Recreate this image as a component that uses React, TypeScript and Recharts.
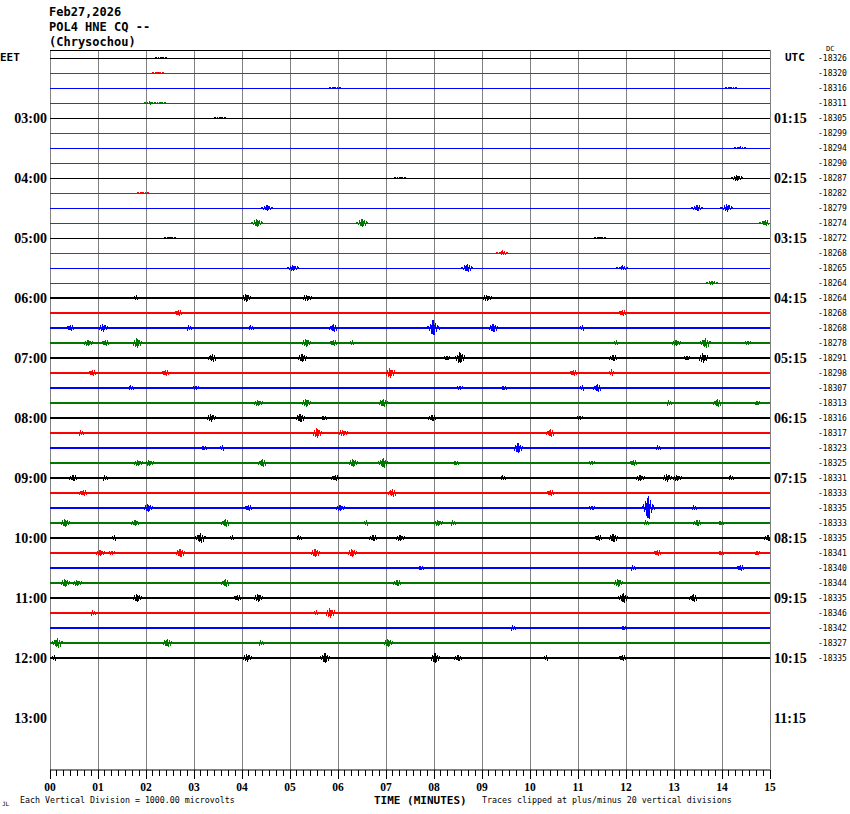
import React from 'react';
import { LineChart, Line, XAxis, YAxis, ReferenceLine } from 'recharts';

// helicorder: one 15-minute trace per row, rows top to bottom
const traceValues = [
  -18326, -18320, -18316, -18311, -18305, -18299, -18294, -18290, -18287, -18282,
  -18279, -18274, -18272, -18268, -18265, -18264, -18264, -18268, -18268, -18278,
  -18291, -18298, -18307, -18313, -18316, -18317, -18323, -18325, -18331, -18333,
  -18335, -18333, -18335, -18341, -18340, -18344, -18335, -18346, -18342, -18327,
  -18335,
];

const hourRows = [4, 8, 12, 16, 20, 24, 28, 32, 36, 40, 44];
const hourLabelsEET = ['03:00', '04:00', '05:00', '06:00', '07:00', '08:00', '09:00', '10:00', '11:00', '12:00', '13:00'];
const hourLabelsUTC = ['01:15', '02:15', '03:15', '04:15', '05:15', '06:15', '07:15', '08:15', '09:15', '10:15', '11:15'];
const minuteLabels = ['00', '01', '02', '03', '04', '05', '06', '07', '08', '09', '10', '11', '12', '13', '14', '15'];

// events per trace: [minute, peak amplitude in microvolts]
const traceEvents: [number, number][][] = [
  [[2.31, 70]],
  [[2.25, 70]],
  [[5.94, 70], [14.19, 70]],
  [[2.08, 70], [2.29, 70]],
  [[3.54, 70]],
  [],
  [[14.38, 70]],
  [],
  [[7.29, 70], [14.31, 200]],
  [[1.94, 70]],
  [[4.52, 200], [13.48, 200], [14.1, 270]],
  [[4.31, 270], [6.5, 270], [14.9, 200]],
  [[2.5, 70], [11.46, 70]],
  [[9.42, 130]],
  [[5.06, 200], [8.69, 270], [11.92, 130]],
  [[13.79, 130]],
  [[1.81, 130], [4.08, 270], [5.35, 200], [9.1, 200]],
  [[2.67, 200], [11.92, 200]],
  [[0.42, 200], [1.1, 270], [2.88, 130], [4.17, 130], [5.9, 270], [7.98, 530], [9.23, 270], [11.1, 130]],
  [[0.79, 200], [1.15, 200], [1.81, 330], [5.33, 270], [5.9, 200], [6.31, 130], [11.81, 130], [13.04, 200], [13.65, 330], [14.54, 130]],
  [[3.38, 270], [5.25, 270], [8.27, 130], [8.54, 400], [11.73, 200], [13.27, 130], [13.6, 330]],
  [[0.88, 200], [2.4, 200], [7.08, 330], [10.9, 200], [11.7, 130]],
  [[1.67, 130], [3.04, 130], [8.54, 130], [9.44, 130], [11.1, 130], [11.4, 270]],
  [[4.33, 200], [5.33, 270], [6.94, 270], [12.88, 130], [13.9, 270], [14.73, 130]],
  [[3.35, 270], [5.21, 270], [5.69, 130], [7.96, 200], [11.04, 130]],
  [[0.63, 130], [5.56, 330], [6.1, 200], [10.42, 270]],
  [[3.19, 130], [3.6, 130], [9.75, 330], [12.65, 130]],
  [[1.83, 200], [2.06, 200], [4.42, 270], [6.31, 270], [6.94, 330], [8.44, 130], [11.29, 130], [12.15, 200]],
  [[0.48, 200], [1.13, 130], [5.94, 200], [9.42, 130], [12.29, 200], [12.85, 270], [13.06, 200], [14.17, 130]],
  [[0.69, 200], [7.13, 270], [10.42, 200]],
  [[2.04, 270], [4.13, 200], [6.04, 200], [11.29, 130], [12.46, 800], [13.4, 130]],
  [[0.31, 270], [1.77, 200], [3.65, 270], [6.6, 130], [8.08, 200], [8.38, 130], [12.4, 130], [13.48, 200], [13.96, 130]],
  [[1.35, 130], [3.13, 330], [3.81, 130], [5.17, 130], [6.73, 200], [7.29, 200], [11.42, 200], [11.73, 270], [14.96, 200]],
  [[1.04, 200], [1.29, 130], [2.71, 270], [5.52, 270], [6.29, 270], [12.65, 200], [13.96, 130], [14.73, 130]],
  [[3.54, 70], [7.71, 130], [12.13, 130], [14.38, 200]],
  [[0.31, 270], [0.56, 200], [3.65, 270], [7.23, 200], [11.83, 270]],
  [[1.81, 270], [3.9, 200], [4.33, 270], [11.94, 330], [13.4, 270]],
  [[0.88, 130], [5.56, 130], [5.83, 330], [9.69, 70]],
  [[9.63, 130], [11.94, 130]],
  [[0.15, 330], [2.44, 270], [4.38, 130], [7.04, 270]],
  [[0.1, 130], [4.1, 270], [5.73, 330], [8.02, 330], [8.5, 200], [10.35, 130], [11.92, 200]],
];

const COLORS = ['#000000', '#ff0000', '#0000ff', '#007800'];
const UV_PER_ROW = 1000;
const TOP = 8 / 15;
const BOTTOM = TOP - 48;
const SUBDIV = 7;
const minuteTicks = Array.from({ length: 15 * SUBDIV + 1 }, (_, k) => k / SUBDIV);

// shape of one wiggle, [minute offset, fraction of peak]
const wiggle: [number, number][] = [
  [-0.1, 0.2], [-0.07, -0.35], [-0.045, 0.55], [-0.02, -0.8], [0, 1],
  [0.02, -0.9], [0.045, 0.65], [0.07, -0.45], [0.1, 0.3], [0.13, -0.15],
];

function buildTrace(row: number) {
  const pts: { x: number; y: number }[] = [{ x: 0, y: -row }, { x: 15, y: -row }];
  traceEvents[row].forEach(([m, amp]) => {
    pts.push({ x: Math.max(0, m - 0.13), y: -row });
    wiggle.forEach(([dx, f]) => {
      const x = m + dx;
      if (x >= 0 && x <= 15) pts.push({ x, y: -row + (f * amp) / UV_PER_ROW });
    });
    pts.push({ x: Math.min(15, m + 0.16), y: -row });
  });
  return pts.sort((a, b) => a.x - b.x);
}

const traces = traceValues.map((_, i) => buildTrace(i));
const baselines = traceValues.map((_, i) => [{ x: 0, y: -i }, { x: 15, y: -i }]);
const rowTicks = traceValues.map((_, i) => -i);

const MinuteTick = (props: any) => {
  const { x, y, payload } = props;
  const k = Math.round(payload.value * SUBDIV);
  const major = k % SUBDIV === 0;
  return (
    <g>
      <line x1={x} x2={x} y1={y} y2={y + (major ? 9 : 6)} stroke="#000" shapeRendering="crispEdges" />
      {major && (
        <text x={x} y={y + 17} textAnchor="middle" dominantBaseline="central"
          style={{ fontFamily: 'Liberation Serif', fontWeight: 'bold', fontSize: 11.5 }} fill="#000">
          {minuteLabels[k / SUBDIV]}
        </text>
      )}
    </g>
  );
};

const serif = { fontFamily: 'Liberation Serif', fontWeight: 'bold' as const, fontSize: 14, fill: '#000' };
const mono = { fontFamily: 'DejaVu Sans Mono' };

export default function App() {
  return (
    <div style={{ position: 'absolute', left: 0, top: 0, width: 850, height: 814, background: '#fff' }}>
      <LineChart width={850} height={814} margin={{ top: 50, right: 0, bottom: 14, left: 0 }}>
        <XAxis xAxisId={0} type="number" dataKey="x" domain={[0, 15]} ticks={minuteTicks} interval={0}
          height={30} tickSize={0} tickMargin={0} tickLine={false} tick={<MinuteTick />}
          axisLine={{ stroke: '#000' }} allowDataOverflow />
        <YAxis yAxisId="left" type="number" domain={[BOTTOM, TOP]} ticks={hourRows.map((r) => -r)} interval={0}
          width={50} tickSize={0} tickMargin={3} axisLine={false} tickLine={false} allowDataOverflow
          tickFormatter={(v: number) => hourLabelsEET[hourRows.indexOf(-v)]} tick={serif} />
        <YAxis yAxisId="utc" orientation="right" type="number" domain={[BOTTOM, TOP]} ticks={hourRows.map((r) => -r)}
          interval={0} width={45} tickSize={0} tickMargin={4} axisLine={false} tickLine={false} allowDataOverflow
          tickFormatter={(v: number) => hourLabelsUTC[hourRows.indexOf(-v)]} tick={{ ...serif, textAnchor: 'start' }} />
        <YAxis yAxisId="val" orientation="right" type="number" domain={[BOTTOM, TOP]} ticks={rowTicks}
          interval={0} width={35} tickSize={0} tickMargin={3} axisLine={false} tickLine={false} allowDataOverflow
          tickFormatter={(v: number) => String(traceValues[-v])}
          tick={{ ...mono, fontSize: 8, fill: '#000' }} />
        {minuteLabels.map((_, m) => (
          <ReferenceLine key={'m' + m} yAxisId="left" x={m} stroke="#808080" strokeWidth={1} shapeRendering="crispEdges" />
        ))}
        <ReferenceLine yAxisId="left" y={TOP} stroke="#000" strokeWidth={1} shapeRendering="crispEdges" />
        {baselines.map((data, i) => (
          <Line key={'b' + i} yAxisId="left" data={data} dataKey="y" type="linear" dot={false} activeDot={false}
            stroke={COLORS[i % 4]} strokeWidth={i >= 16 ? 2 : 1} shapeRendering="crispEdges"
            isAnimationActive={false} />
        ))}
        {traces.map((data, i) => (
          <Line key={'t' + i} yAxisId="left" data={data} dataKey="y" type="linear" dot={false} activeDot={false}
            stroke={COLORS[i % 4]} strokeWidth={1} shapeRendering="crispEdges"
            isAnimationActive={false} />
        ))}
      </LineChart>
      <svg width={850} height={814} style={{ position: 'absolute', left: 0, top: 0, pointerEvents: 'none' }}>
        <g style={{ ...mono, fontWeight: 'bold', fontSize: 12 }} fill="#000">
          <text x={49} y={12} dominantBaseline="central">Feb27,2026</text>
          <text x={49} y={27} dominantBaseline="central">POL4 HNE CQ --</text>
          <text x={49} y={42} dominantBaseline="central">(Chrysochou)</text>
        </g>
        <g style={{ ...mono, fontWeight: 'bold', fontSize: 11 }} fill="#000">
          <text x={0} y={57} dominantBaseline="central">EET</text>
          <text x={785} y={57} dominantBaseline="central">UTC</text>
          <text x={374} y={800} dominantBaseline="central">TIME (MINUTES)</text>
        </g>
        <g style={{ ...mono, fontSize: 8.3 }} fill="#000">
          <text x={826} y={49} dominantBaseline="central" style={{ fontSize: 7 }}>DC</text>
          <text x={2} y={803} dominantBaseline="central" style={{ fontSize: 6 }}>JL</text>
          <text x={20} y={800} dominantBaseline="central">Each Vertical Division = 1000.00 microvolts</text>
          <text x={482} y={800} dominantBaseline="central">Traces clipped at plus/minus 20 vertical divisions</text>
        </g>
      </svg>
    </div>
  );
}
